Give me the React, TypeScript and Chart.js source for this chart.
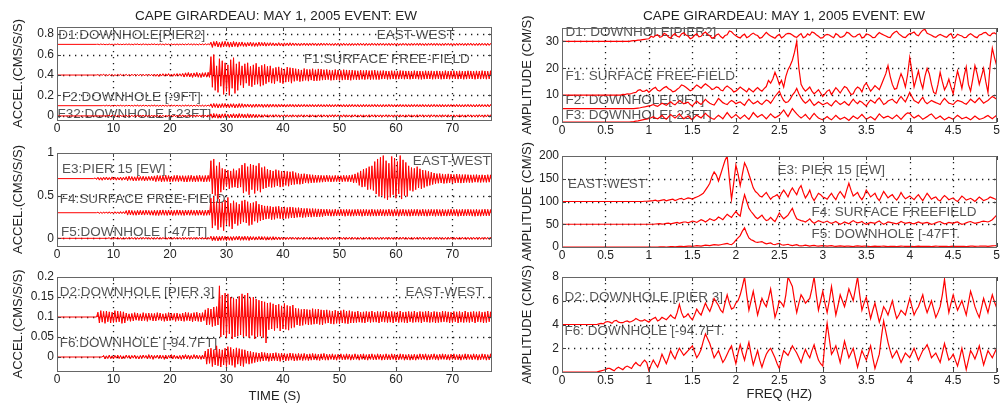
import React, { useEffect, useRef } from 'react';
import { Chart, registerables } from 'chart.js';
Chart.register(...registerables);

// ---------------- data ----------------
const TITLE = 'CAPE GIRARDEAU: MAY 1, 2005 EVENT: EW';
const TIME_TICKS = [0, 10, 20, 30, 40, 50, 60, 70];
const FREQ_TICKS = [0, 0.5, 1, 1.5, 2, 2.5, 3, 3.5, 4, 4.5, 5];
const P1_YTICKS = [0, 0.2, 0.4, 0.6, 0.8];
const P2_YTICKS = [0, 0.5, 1];
const P3_YTICKS = [0, 0.05, 0.1, 0.15, 0.2];
const P4_YTICKS = [0, 10, 20, 30];
const P5_YTICKS = [0, 50, 100, 150, 200];
const P6_YTICKS = [0, 2, 4, 6, 8];

const TIME_STEP = 0.25; // s between samples of the acceleration traces
const FREQ_STEP = 0.025; // Hz between samples of the spectra
const MILLI = 0.001; // deviations below are in thousandths of the axis unit

// time traces: baseline offset, onset time, deviations (thousandths), 5 s per row
const D1_BASE = 0.7, D1_START = 7;
const D1_DEV = [
  2,-3,4,-2,3,-4,1,-3,4,-3,2,-4,3,-2,5,-3,2,-4,3,-3,
  4,-3,5,-4,3,-5,4,-2,5,-4,3,-5,6,-3,4,-5,3,-4,5,-3,
  5,-4,3,-5,6,-4,4,-6,5,-3,4,-5,6,-4,3,-5,5,-6,4,-4,
  5,-6,4,-5,7,-4,5,-6,6,-5,4,-7,6,-5,5,-6,7,-4,6,-5,
  22,-30,28,-18,32,-26,20,-29,27,-24,30,-20,25,-28,22,-26,29,-21,24,-27,
  21,-18,24,-20,17,-22,19,-16,23,-19,18,-21,16,-20,22,-17,19,-15,20,-18,
  16,-14,17,-13,15,-16,12,-15,17,-14,13,-16,15,-12,14,-15,16,-13,14,-12,
  13,-12,11,-14,12,-10,13,-12,11,-13,12,-11,14,-10,12,-13,11,-12,13,-10,
  11,-10,12,-9,10,-11,9,-12,11,-10,12,-9,10,-11,12,-10,9,-11,10,-12,
  10,-11,9,-10,12,-10,11,-9,10,-12,11,-10,9,-11,12,-9,10,-11,11,-10,
  12,-9,10,-11,9,-10,11,-12,10,-9,11,-10,12,-11,9,-10,11,-9,10,-12,
  9,-11,12,-10,10,-9,11,-11,12,-10,9,-12,10,-11,11,-9,12,-10,10,-11,
  11,-10,9,-12,10,-11,12,-9,11,-10,10,-12,9,-11,11,-10,12,-9,10,-11,
  10,-12,11,-9,12,-10,9,-11,10,-11,12,-10,11,-9,10,-12,11,-10,9,-11,
  10,-10,11];
const F1_BASE = 0.4, F1_START = 7;
const F1_DEV = [
  4,-6,5,-3,7,-5,4,-6,6,-4,5,-7,3,-5,6,-4,7,-6,5,-5,
  7,-8,6,-9,8,-6,9,-7,6,-8,9,-7,8,-9,7,-6,9,-8,7,-9,
  10,-12,9,-14,11,-10,13,-11,12,-9,14,-12,10,-13,12,-11,14,-10,13,-12,
  16,-20,22,-15,25,-19,18,-24,21,-17,26,-22,19,-25,23,-18,24,-21,27,-23,
  180,-120,200,-150,90,-170,160,-110,140,-190,120,-160,100,-200,150,-130,170,-180,110,-150,
  130,-100,90,-125,110,-80,120,-105,85,-115,100,-95,115,-90,80,-110,95,-100,105,-85,
  85,-70,90,-80,65,-85,75,-60,80,-75,70,-85,60,-70,78,-65,72,-80,68,-62,
  62,-55,58,-65,50,-60,64,-52,56,-60,55,-50,62,-58,52,-57,60,-54,58,-50,
  52,-48,55,-45,50,-53,46,-50,54,-47,49,-52,45,-50,53,-46,50,-48,47,-52,
  48,-44,45,-47,42,-46,48,-42,44,-45,47,-41,43,-46,45,-43,48,-44,42,-45,
  42,-40,44,-38,40,-43,38,-41,43,-39,41,-42,39,-40,44,-38,42,-41,40,-39,
  40,-42,38,-39,43,-37,40,-41,39,-43,37,-40,42,-38,40,-39,41,-42,38,-40,
  41,-38,39,-42,37,-40,43,-39,38,-41,40,-37,42,-39,38,-40,41,-38,39,-42,
  38,-40,42,-37,40,-39,38,-42,41,-38,39,-40,43,-37,40,-41,38,-39,42,-40,
  39,-41,40];
const F2_BASE = 0.1, F2_START = 8;
const F2_DEV = [
  3,-4,5,-3,4,-5,3,-4,5,-4,4,-3,5,-4,3,-5,4,-3,5,-4,
  4,-5,5,-4,6,-5,4,-5,6,-4,5,-6,4,-5,5,-4,6,-5,4,-6,
  5,-6,6,-5,4,-6,5,-5,6,-4,5,-6,6,-5,4,-6,5,-5,6,-4,
  6,-5,5,-7,6,-5,7,-6,5,-6,6,-7,5,-5,7,-6,18,-20,22,-17,
  20,-22,18,-19,21,-17,22,-20,18,-21,19,-16,20,-22,17,-19,21,-18,20,-17,
  16,-15,17,-14,15,-17,14,-16,17,-15,15,-14,16,-17,14,-15,17,-16,15,-14,
  15,-14,13,-15,14,-13,15,-12,13,-14,12,-13,14,-12,13,-14,12,-13,14,-12,
  12,-11,13,-12,11,-13,12,-11,13,-12,11,-12,13,-11,12,-13,11,-12,12,-11,
  13,-12,11,-12,12,-11,13,-12,11,-13,12,-12,11,-13,12,-11,13,-12,11,-12,
  12,-13,11,-12,13,-11,12,-12,11,-13,12,-11,13,-12,12,-11,11,-13,12,-12,
  11,-12,13,-11,12,-12,11,-13,12,-11,13,-12,11,-12,12,-13,11,-12,13,-11,
  12,-11,12,-13,11,-12,13,-12,11,-11,12,-13,12,-11,13,-12,11,-12,12,-13,
  13,-12,11,-12,12,-11,12,-13,11,-12,13,-11,12,-12,11,-13,12,-11,13,-12,
  12,-12,11,-13,12,-11,13,-12,12,-11,11,-12,13,-12,12,-11,12,-13,11];
const F3_BASE = 0, F3_START = 9;
const F3_DEV = [
  6,-7,8,-6,7,-8,6,-7,8,-7,7,-6,8,-8,6,-7,7,-8,8,-6,
  7,-8,8,-7,9,-7,8,-8,7,-9,8,-7,9,-8,7,-8,8,-9,7,-8,
  8,-9,9,-8,7,-9,9,-8,8,-10,9,-8,10,-9,8,-9,9,-10,8,-9,
  9,-10,10,-8,9,-10,10,-9,9,-10,10,-9,20,-22,24,-18,21,-23,19,-22,
  20,-18,22,-19,17,-20,18,-16,22,-20,19,-21,23,-18,20,-19,17,-21,22,-18,
  19,-17,18,-16,15,-17,14,-13,12,-14,13,-11,12,-13,11,-12,12,-11,13,-12,
  11,-12,10,-11,12,-10,11,-12,10,-11,12,-11,10,-12,11,-10,12,-11,11,-10,
  10,-11,12,-10,11,-11,10,-12,11,-10,12,-11,11,-10,10,-12,11,-11,12,-10,
  12,-10,11,-11,10,-12,12,-10,11,-11,10,-12,11,-10,12,-11,10,-11,11,-12,
  11,-11,10,-12,12,-10,11,-11,12,-10,10,-11,11,-12,10,-10,12,-11,11,-10,
  10,-12,11,-10,11,-11,12,-10,10,-12,11,-11,12,-10,11,-11,10,-12,12,-10,
  11,-10,12,-11,10,-11,11,-12,12,-10,11,-10,10,-12,11,-11,12,-10,11,-11,
  12,-11,10,-11,11,-12,10,-10,12,-11,11,-12,10,-11,12,-10,11,-11,10,-12,
  11,-11,12,-10,10,-12,11,-11,12,-10,11,-10,12,-11,10];

const E3_BASE = 0.7, E3_START = 6.5;
const E3_DEV = [8,-10,
  15,-18,12,-20,17,-14,19,-16,13,-18,20,-15,17,-19,14,-17,18,-20,16,-15,
  22,-25,28,-20,24,-27,21,-26,29,-23,25,-22,27,-28,23,-24,26,-21,28,-25,
  32,-36,38,-30,35,-39,31,-34,40,-33,36,-38,30,-35,37,-32,39,-36,34,-31,
  35,-38,33,-40,37,-34,39,-36,32,-38,36,-35,40,-33,34,-39,37,-36,38,-34,
  210,-180,230,-200,150,-240,190,-160,120,-130,110,-95,100,-120,90,-105,115,-100,95,-110,
  120,-100,160,-170,180,-150,140,-190,170,-130,160,-175,150,-140,180,-160,130,-120,140,-110,
  110,-95,100,-105,90,-100,105,-85,95,-100,85,-95,90,-80,85,-90,80,-75,85,-70,
  70,-65,60,-68,55,-62,58,-50,52,-55,48,-50,45,-48,42,-46,40,-44,38,-42,
  36,-38,40,-35,37,-39,34,-36,38,-35,36,-40,35,-37,39,-34,37,-36,40,-38,
  45,-50,55,-48,70,-80,90,-100,110,-95,120,-130,140,-125,150,-140,200,-180,230,-210,
  250,-200,270,-230,210,-250,180,-220,260,-190,240,-230,200,-180,270,-240,220,-200,190,-210,
  150,-140,130,-150,120,-130,140,-110,115,-120,100,-105,95,-90,85,-80,75,-70,65,-60,
  58,-55,60,-52,55,-58,50,-54,56,-50,52,-55,48,-52,54,-49,50,-53,47,-50,
  48,-45,46,-48,44,-47,45,-42,47,-44,43,-46,45,-43,42,-45,46,-42,44,-45,
  43,-44,45];
const F4_BASE = 0.3, F4_START = 7;
const F4_DEV = [
  6,-8,7,-9,9,-7,10,-8,11,-9,8,-10,12,-9,10,-11,13,-10,12,-11,
  25,-28,30,-26,27,-29,24,-30,28,-25,29,-27,26,-28,30,-24,27,-29,25,-30,
  30,-32,28,-33,31,-29,33,-30,29,-32,32,-28,30,-33,28,-31,33,-29,31,-30,
  29,-33,32,-28,30,-31,33,-29,28,-32,31,-30,32,-28,29,-33,30,-31,32,-29,
  170,-180,190,-150,130,-200,160,-170,120,-210,150,-140,180,-160,110,-190,140,-130,120,-150,
  100,-130,140,-110,150,-120,130,-150,110,-140,120,-100,135,-115,100,-95,90,-85,80,-75,
  80,-70,75,-82,68,-78,72,-65,76,-70,65,-72,70,-68,62,-66,68,-60,64,-62,
  58,-55,60,-52,55,-58,50,-54,52,-50,48,-52,50,-46,47,-49,45,-47,44,-46,
  40,-38,42,-36,39,-41,37,-40,42,-38,36,-39,41,-37,38,-42,40,-36,39,-41,
  37,-40,39,-38,41,-36,38,-42,40,-37,39,-38,36,-41,42,-39,37,-40,38,-36,
  41,-37,38,-40,36,-39,42,-38,37,-41,40,-36,39,-42,38,-37,41,-39,36,-40,
  38,-41,40,-37,39,-36,41,-40,36,-38,42,-39,37,-41,39,-36,40,-38,38,-42,
  40,-36,37,-41,42,-38,36,-40,39,-37,41,-39,38,-36,40,-42,37,-38,41,-39,
  39,-38,41,-36,38,-40,37,-42,40,-39,36,-41,39,-37,42,-38,40,-36,37,-40,
  38,-39,40];
const F5_BASE = 0, F5_START = 9;
const F5_DEV = [
  8,-10,9,-11,10,-9,11,-10,9,-12,10,-11,9,-10,12,-9,11,-10,10,-12,
  9,-11,10,-9,12,-10,11,-9,10,-12,11,-10,9,-11,12,-10,10,-11,11,-9,
  10,-12,11,-10,9,-11,12,-10,11,-9,10,-12,11,-10,12,-11,9,-10,11,-12,
  11,-10,12,-11,10,-9,12,-11,10,-12,11,-10,25,-28,22,-26,24,-30,22,-25,
  26,-23,24,-27,22,-24,20,-25,22,-21,23,-20,26,-24,21,-23,25,-22,24,-26,
  22,-19,20,-21,18,-20,22,-19,21,-18,20,-22,19,-20,18,-21,20,-19,17,-18,
  16,-15,14,-16,13,-14,12,-13,14,-11,13,-12,12,-14,13,-12,11,-13,14,-12,
  12,-11,13,-12,14,-13,12,-11,13,-14,12,-13,11,-12,13,-14,12,-11,13,-12,
  14,-12,12,-13,11,-12,13,-14,12,-11,13,-12,14,-12,12,-13,11,-12,13,-14,
  12,-11,13,-12,14,-12,12,-13,11,-12,13,-14,12,-11,13,-12,12,-13,14,-12,
  11,-12,13,-14,12,-12,13,-11,14,-12,12,-13,11,-12,13,-14,12,-11,13,-12,
  14,-12,12,-13,11,-12,13,-14,12,-11,13,-12,12,-13,14,-12,11,-13,12,-12,
  13,-11,12,-14,12,-13,11,-12,13,-12,14,-11,12,-13,12,-14,11,-12,13,-12,
  12,-13,14,-12,11,-12,13,-11,12,-14,13,-12,11,-13,12];

const D2_BASE = 0.1, D2_START = 7;
const D2_DEV = [
  12,-15,16,-13,14,-16,15,-12,13,-15,12,-14,16,-13,15,-12,14,-16,13,-15,
  10,-9,8,-11,9,-10,11,-8,10,-9,8,-10,11,-9,9,-11,10,-8,9,-10,
  9,-10,11,-8,10,-9,8,-11,9,-10,11,-9,10,-8,9,-11,10,-9,8,-10,
  10,-11,12,-9,11,-10,9,-12,11,-10,12,-11,10,-12,11,-9,18,-20,22,-19,
  20,-24,25,-22,26,-20,78,-50,55,-45,60,-52,58,-42,50,-55,48,-50,45,-48,
  52,-45,58,-50,55,-48,60,-52,48,-46,50,-55,45,-50,42,-48,40,-52,38,-65,
  35,-32,36,-30,33,-34,30,-28,32,-35,28,-30,34,-31,29,-33,27,-28,30,-26,
  22,-20,21,-22,19,-21,20,-18,19,-20,18,-19,21,-18,19,-17,20,-19,18,-20,
  17,-16,18,-15,16,-17,15,-18,17,-16,15,-17,16,-15,18,-16,15,-17,16,-15,
  14,-15,13,-14,15,-13,12,-14,13,-15,14,-12,13,-14,15,-13,12,-13,14,-15,
  13,-12,14,-13,15,-14,12,-13,14,-15,13,-12,13,-14,15,-13,12,-14,13,-15,
  14,-12,13,-14,15,-13,12,-13,14,-15,13,-12,14,-13,15,-14,12,-13,14,-15,
  13,-14,12,-13,15,-12,14,-13,13,-15,12,-14,14,-12,13,-15,14,-13,12,-14,
  15,-13,12,-14,13,-12,14,-15,13,-12,14,-13,12,-15,13,-14,15,-12,13,-14,
  13,-12,14];
const F6_BASE = 0, F6_START = 8;
const F6_DEV = [
  4,-5,3,-4,5,-4,3,-5,4,-3,5,-4,4,-5,3,-4,5,-3,4,-5,
  4,-3,5,-4,3,-5,4,-4,5,-3,4,-5,6,-4,5,-6,4,-3,5,-4,
  5,-4,4,-6,5,-5,4,-3,6,-5,5,-4,3,-5,4,-6,5,-4,6,-5,
  5,-6,4,-5,6,-4,5,-5,4,-6,5,-5,15,-18,20,-16,22,-24,18,-20,
  28,-22,20,-25,18,-20,22,-24,26,-19,24,-21,20,-26,23,-18,21,-22,19,-24,
  18,-16,15,-18,14,-16,12,-14,11,-12,10,-11,12,-10,11,-9,10,-11,9,-10,
  10,-9,11,-10,9,-11,10,-8,9,-10,8,-9,10,-8,9,-10,8,-9,9,-8,
  8,-9,9,-8,7,-9,8,-8,9,-7,8,-8,7,-9,8,-7,9,-8,7,-8,
  7,-6,8,-7,6,-8,7,-6,8,-7,6,-7,8,-6,7,-8,6,-7,8,-6,
  6,-8,7,-6,8,-7,6,-8,7,-6,8,-7,6,-7,8,-6,7,-8,6,-7,
  8,-7,6,-7,8,-6,7,-8,6,-7,8,-6,7,-8,6,-7,7,-8,6,-7,
  7,-8,6,-6,8,-7,7,-6,8,-8,6,-7,7,-6,8,-7,6,-8,7,-6,
  8,-6,7,-7,6,-8,7,-6,8,-7,6,-7,7,-8,6,-6,8,-7,7,-6,
  6,-7,8,-6,7,-8,6,-7,8,-6,7,-8,6,-7,8,-6,7,-7,6,-8,
  7,-6,8];

// spectra, sampled every FREQ_STEP from 0 to 5 Hz (rows: 0-1, then 1 Hz per row)
const S_D1 = [30,30,30,30,30,30,30,30,30,30,30,30,30,30,30,30,30,30,30,30,30,30,30,30,30,30,30,30,30,30,30,30,
  30.2,30.3,30.3,30.5,30.5,30.7,30.8,30.9,31,
  31.9,31.5,32.2,32.5,31.5,31.8,33,32.6,31.6,31.2,32.3,32.9,31.9,31.6,32.8,33.2,32.4,32,31,31.4,
  32.3,32.8,31.7,31.9,33,33.5,32.6,32.2,31.2,31.5,32.4,32.8,31.8,31.2,32.2,32.5,33.9,33.6,32.7,32.1,
  31.6,31.3,32.2,32.7,31.4,31.8,32.6,33.1,32.5,32.2,31.2,31.5,32.4,33.4,32.6,32,31.6,31.2,32.1,32.6,
  31.3,31.8,32.7,33,32.9,32.4,31.8,31.5,32.3,32.9,31.4,31.7,32.8,32.3,33.5,33.2,32.5,31.9,31.2,31.4,
  32.3,32.6,32.4,31.8,31.4,32.9,32.4,31.5,31.7,32.2,33.4,33.1,32.3,31.7,31.8,32.5,32.8,31.3,31.6,32.8,
  32.6,32.1,31.4,31.5,32.5,33.3,32.8,32.4,32,31.6,31.4,32.7,33.4,33.8,32.8,32.2,31.6,31.4,32.3,32.9,
  33.1,33.5,32.5,32.1,33.3,34.2,34.5,33,32.7,32.3,31.8,31.5,32.2,32.6,32.2,31.8,31.5,32.4,32.9,31.2,
  31.6,32.7,32.3,32,31.4,31.5,32.4,32.9,32.3,31.7,31.4,32.4,32.6,33.2,33.4,32.5,32.1,33,33.2,32.6];
const S_F1 = [10,10,10,10,10,10,10,10,10,10,10,10,10,10,10,10,10,10,10,10,10,10,10,10,10,10,10,10,
  10.3,10.2,10.5,10.4,10.6,10.9,11,11.8,12,11.4,11.5,11.9,11,
  11.8,12.5,12.9,11.8,11.5,12.2,12.8,13.2,12.4,12,11.2,11.5,12.2,12.8,13.8,13.5,12.9,12.3,11.6,12,
  13,13.8,13.2,12.6,13.5,14.2,13.6,13,12.1,12.4,13.1,12.8,11.9,11.6,12.8,13.4,12.8,12.2,11.2,11.5,
  12.2,13,12.4,11.8,11.2,12.5,11.8,11.2,12.1,12.8,12,11.5,12.4,13.2,15.5,14.5,16,18.5,16.5,14,
  15.5,13,17,19.5,21,23,26,30,20,14,12.5,11.5,12.2,13,11.5,10.5,11.2,12,10.8,9.5,
  10.5,11.5,12,10.2,11.5,12.8,11.9,10.8,12.1,13.2,12.8,11.5,10.2,10.5,12.2,13,12.5,11.2,13.5,14.5,
  13,11.5,12.4,13.5,12.8,12,14,16,18,21,17,14,12.2,12.5,15.5,18,16,13,17.5,24,
  19,13,16,19,15,12.5,17,20,18,14,11,10.5,14,18.5,15,12,13.5,16,13,10.5,
  15,19,16,12.5,17,20.5,14,11.5,16,21,18,14,17,20,15,11,21,27.5,24,21];
const S_F2 = [5,5,5,5,5,5,5,5,5,5,5,5,5,5,5,5,5,5,5,5,5,5,5,5,5,5,5,5,5,5,5,5,5,5,
  5.1,5.2,5.3,5.5,5.6,5.8,6,
  6.2,6.5,6.1,5.8,6.4,7,6.6,6.2,6.9,7.5,6.8,6.4,7.2,8,7.4,6.8,7.1,7.4,6.5,6,
  6.9,7.8,7.1,6.5,7.5,8.4,7.6,7,6.6,6.3,7.5,8.8,8,7.2,6.8,6.5,7.4,8,7.5,6.8,
  7.2,7.5,6.8,6.2,7.5,8.5,7.6,6.8,7.2,7.8,7,6.5,7.4,8.2,7.8,7,8.2,9.5,10.5,11.5,
  9.5,8,7.2,7.5,8.5,10,11,12.5,10.5,9,7.8,7,7.6,8.5,7.2,6.2,6.8,7.5,7,6.4,
  6.8,7.2,6.5,6,7.1,8,7.2,6.5,7,7.6,6.8,6.2,7.4,8.5,7.5,6.8,7.8,7.4,6.6,6,
  7.2,8.2,7.6,7,8.2,9,7.8,6.5,7,7.8,8.2,8.5,7.6,7,8.4,9.5,8.4,7.5,9.2,11,
  9.5,8,7.5,7,8.2,9.2,7.6,6.8,7.4,8,7.6,7.2,6.9,6.5,7.8,8.8,7.9,7,6.8,6.5,
  7.4,8,7.8,7.5,7,6.6,7.5,8.5,7.8,7.2,8.1,9,8,7,7.5,8,8.8,9.5,9,8.5];
const S_F3 = [0,0,0,0,0,0,0,0,0,0,0,0,0,0,0,0,0,0,0,0,0,0,0,0,0,0,0,0,0,0,0,0,
  0.1,0.15,0.3,0.4,0.6,0.8,1,1.1,1.3,
  1.6,2,1.5,1.2,1.8,2.5,1.6,1,1.9,2.8,2.1,1.5,2.2,3,2,1.2,1.7,2.2,1.4,0.8,
  1.8,2.6,2,1.5,2.4,3.2,2.4,1.8,1.3,1,1.8,2.5,1.9,1.2,2.4,3.5,2.5,1.5,2.1,2.8,
  2,1.2,1.9,2.6,1.7,1,2.2,3.5,2.6,1.8,2.3,2.8,2,1.2,2.1,3,2.2,1.6,2,2.5,
  3.5,4.5,3.2,2,3.5,5,4,3,2.2,1.5,2.1,2.8,1.8,1,2.2,3.2,2.3,1.5,1.1,0.8,
  1.4,2,1.3,0.8,1.6,2.5,1.7,1,1.4,1.8,1.2,0.6,1.4,2.2,1.7,1.2,2,2.8,1.9,1,
  1.5,2,1.4,0.8,1.9,3,2.2,1.5,1.9,2.2,1.7,1.2,1.9,2.6,1.8,1,1.9,2.8,3.4,3.2,
  2.2,1.5,2,2.5,1.8,1,1.5,2,2.6,3,2.1,1.2,1.7,2.2,1.5,0.8,1.3,1.8,1.4,1,
  1.8,2.5,1.9,1.2,1.5,1.8,1.3,0.8,1.5,2.2,1.6,1,1.2,1.5,2,2.4,1.8,1.2,1.9,2.5];

const S_E3 = [100,100,100,100,100,100,100,100,100,100,100,100,100,100,100,100,100,100,100,100,
  100,100,100,100,100,100,100,100,100,100,100,100,100,100,100,100,100,100,100.5,100.5,101,
  101.5,102,103,101,102,103,104,101.5,103,104,105,102,104,106,107,104,106,108,107,105,
  108,110,112,115,118,125,132,140,155,165,158,145,160,175,190,200,150,105,140,180,
  160,135,160,185,175,160,145,130,122,118,112,110,115,120,112,105,110,112,115,108,
  118,125,118,110,122,130,122,115,128,135,120,108,115,125,110,102,110,118,115,110,
  108,105,112,118,110,104,115,122,115,108,125,140,125,112,116,120,110,104,112,125,
  118,110,114,118,108,102,112,122,115,108,112,115,108,103,110,120,112,106,109,112,
  108,104,110,115,108,102,110,118,112,105,108,110,104,101,108,113,109,104,106,108,
  103,100,106,112,108,103,105,107,104,100,105,110,106,102,104,106,110,108,106,104];
const S_F4 = [50,50,50,50,50,50,50,50,50,50,50,50,50,50,50,50,50,50,50,50,
  50,50,50,50,50,50,50,50,50,50,50,50,50,50,50,50,50,50,50,50,50,
  50,50,50.5,51,51.5,50.5,51,52,52.5,51,52,53,54,52,53.5,55,55,53,55,57,
  56,54,57,60,58,55,58,62,60,58,61,66,63,60,66,72,68,65,72,78,
  72,68,95,115,100,85,78,72,66,62,66,70,63,58,60,65,60,56,65,75,
  68,62,66,70,78,85,72,62,60,58,57,55,58,62,56,52,55,58,56,54,
  55,57,54,52,54,56,53,50,52,55,53,51,55,58,55,53,54,56,52,50,
  52,54,53,52,55,57,53,50,52,55,54,53,52,51,53,56,54,52,53,54,
  52,51,53,55,53,52,53,54,52,50,51,53,55,56,53,51,52,54,53,52,
  54,55,52,50,51,53,55,56,54,52,53,54,56,57,56,55,57,60,65,70];
const S_F5 = [0,0,0,0,0,0,0,0,0,0,0,0,0,0,0,0,0,0,0,0,
  0,0,0,0,0,0,0,0,0,0,0,0,0,0,0,0,0,0,0,0,0,
  0,0,0,0,0.3,0.5,0.3,0,0.5,1,0.8,0.5,1,1.5,1.2,1,1.5,2,1.8,1.5,
  2.2,3,2.5,2,3,4,3.5,3,4,5,4.5,4,5,6,7,8,6,5,9,15,
  20,25,35,42,30,20,16,14,11,10,11,12,9,7,8,9,6,5,7,8,
  5,4,5,6,4,3,4,5,3,2.5,3,4,3,2,3,3.5,2.5,2,2.5,3,
  2.5,2,2.5,3,2,1.5,2,2.5,2,1.5,1.8,2,1.5,1,1.8,2.5,2,1.5,1.8,2,
  1.5,1,1.4,1.8,1.5,1.2,1.6,2,1.5,1,1.2,1.5,1.2,1,1.5,2,1.6,1.2,1.3,1.5,
  1.2,1,1.4,1.8,1.5,1.2,1.3,1.5,1.2,1,1.5,2,1.6,1.2,1.3,1.5,1.2,1,1.4,1.8,
  1.5,1.2,1.3,1.5,1.2,1,1.5,2,1.8,1.5,1.6,1.8,2.2,2,1.8,1.5,2,2.5,2.8,3];

const S_D2 = [4,4,4,4,4,4,4,4,4,4,4,4,4,4,4,4,
  4,4.05,4.1,4.05,4.2,4.25,4.2,4.1,4.3,4.35,4.2,4.15,4.15,4.25,4.3,4.2,4.25,4.35,4.5,4.4,4.3,4.3,4.4,4.3,4.2,
  4.4,4.5,4.6,4.3,4.4,4.6,4.5,4.4,4.6,4.8,4.6,4.5,5,5.7,5,4.6,4.7,4.9,4.6,4.4,
  4.8,5.3,5,4.8,5.3,5.8,5.4,5.1,5.6,6.2,5.9,5.6,5.2,5,5.8,6.5,5.8,5.3,5.4,5.8,
  6,6.5,7.2,8,6.5,5.2,6,6.8,5.8,4.8,5.5,6.2,5.8,5.5,6.2,7,5.8,4.6,5.2,6,
  5.8,5.5,6.5,8,7.6,7.2,6,5,5.8,6.5,6.2,5.8,6,6.2,7,8,6.5,5.2,6,6.8,
  5.8,5,6,7.2,6,4.8,5.6,6.5,6,5.5,6.2,7,6.5,6,7,8,6.5,5.2,5.8,6.3,
  5.4,4.5,5.2,5.8,5,4.2,4.8,5.5,5.2,4.8,5.4,6,5.2,4.5,4.8,5.2,5,4.8,5.5,6.2,
  5.5,4.8,5.2,5.5,6,6.5,5.6,5,5.5,6,5.3,4.6,5,5.5,6.5,7.8,6.2,5,5.8,6.5,
  5.8,5.2,5.6,6,5.4,4.8,5.8,6.8,6.2,5.5,5,4.6,5.4,6.2,5.6,5,5.8,6.5,5.9,5.4];
const S_F6 = [0,0,0,0,0,0,0,0,0,0,0,0,0,0,0,0,
  0,0.05,0.1,0.15,0.2,0.3,0.3,0.2,0.1,0.3,0.4,0.3,0.2,0.4,0.5,0.4,0.3,0.6,0.8,0.6,0.5,0.8,1,0.8,0.1,
  0.6,1,0.7,0.4,0.9,1.5,1.1,0.7,1.2,1.8,1.4,1.1,1.6,2,1.7,1.4,1.6,1.8,2,2.2,
  1.7,1.2,1.5,1.9,2.6,3.2,2.8,2.4,1.8,1.2,1.5,1.8,1.3,0.8,1.1,1.5,1.9,2.2,1.4,0.7,
  1.6,2.3,1.6,1,1.8,2.5,1.5,0.6,1.2,1.8,1,0.4,1,1.5,1.8,2,1.6,1.2,0.7,0.3,
  1.1,1.8,1.6,1.4,1.8,2.2,1.9,1.6,1.2,0.8,1.4,1.9,1.5,1.2,1.8,2.3,1.6,1,0.7,0.5,
  2.5,4.1,2.8,1.5,1.8,2.2,1.5,0.8,1.7,2.6,1.9,1.2,1.6,2,1.2,0.4,1.1,1.8,1.4,1,
  1.6,2.2,1.2,0.3,0.9,1.5,3,4.3,3.4,2.5,1.8,1.2,1.5,1.8,1.3,0.8,1.2,1.6,1.4,1.2,
  1.6,2,1.5,1,1.4,1.8,2,2.3,1.8,1.2,1.4,1.6,1.2,0.8,1.6,2.4,1.7,1,1.2,1.5,
  1,0.5,1.2,2,1.1,0.2,1,1.8,1.5,1.1,1.6,2.2,1.4,0.6,1.2,1.8,1.5,1.2,1.6,2];

// ---------------- annotation layout (data coordinates) ----------------
type Note = { text: string; x: number; y: number; align?: CanvasTextAlign };
const P1_NOTES: Note[] = [
  { text: 'D1:DOWNHOLE[PIER2]', x: 0.2, y: 0.79 },
  { text: 'EAST-WEST', x: 56.6, y: 0.79 },
  { text: 'F1:SURFACE FREE-FIELD', x: 43.7, y: 0.555 },
  { text: 'F2:DOWNHOLE [-9FT]', x: 0.9, y: 0.185 },
  { text: 'F32:DOWNHOLE [-23FT]', x: 0.1, y: 0.012 },
];
const P2_NOTES: Note[] = [
  { text: 'E3:PIER 15 [EW]', x: 0.9, y: 0.81 },
  { text: 'EAST-WEST', x: 76.8, y: 0.9, align: 'right' },
  { text: 'F4:SURFACE FREE-FIELD', x: 0.5, y: 0.46 },
  { text: 'F5:DOWNHOLE [-47FT]', x: 0.7, y: 0.07 },
];
const P3_NOTES: Note[] = [
  { text: 'D2:DOWNHOLE [PIER 3]', x: 0.5, y: 0.163 },
  { text: 'EAST-WEST', x: 61.7, y: 0.163 },
  { text: 'F6:DOWNHOLE [-94.7FT]', x: 0.5, y: 0.035 },
];
const P4_NOTES: Note[] = [
  { text: 'D1: DOWNHOLE[PIER2]', x: 0.04, y: 33.3 },
  { text: 'F1: SURFACE FREE-FIELD', x: 0.04, y: 17.2 },
  { text: 'F2: DOWNHOLE[-9FT]', x: 0.04, y: 8.2 },
  { text: 'F3: DOWNHOLE[-23FT]', x: 0.04, y: 2.6 },
];
const P5_NOTES: Note[] = [
  { text: 'EAST-WEST', x: 0.07, y: 138 },
  { text: 'E3: PIER 15 [EW]', x: 2.48, y: 169 },
  { text: 'F4: SURFACE FREEFIELD', x: 2.87, y: 76 },
  { text: 'F5: DOWNHOLE [-47FT.', x: 2.87, y: 29 },
];
const P6_NOTES: Note[] = [
  { text: 'D2: DOWNHOLE [PIER 3]', x: 0.03, y: 6.3 },
  { text: 'F6: DOWNHOLE [-94.7FT.', x: 0.03, y: 3.4 },
];

// ---------------- styling ----------------
const W = 1001, H = 408;
const FONT = '"Liberation Sans", Arial, Helvetica, sans-serif';
const RED = '#ff0000';
const INK = '#222222';
const NOTE_INK = '#555555';

type Pt = { x: number; y: number };
type Trace = { pts: Pt[]; base?: number };
function timeTrace(base: number, start: number, dev: number[]): Trace {
  const pts: Pt[] = [{ x: 0, y: base }, { x: start, y: base }];
  dev.forEach((d, i) => pts.push({ x: start + (i + 1) * TIME_STEP, y: base + d * MILLI }));
  return { pts, base };
}
function spectrum(vals: number[]): Trace {
  return { pts: vals.map((v, i) => ({ x: i * FREQ_STEP, y: v })) };
}

type Panel = {
  key: string; scaleLeft: number; left: number; right: number; top: number; bottom: number;
  xAxisH: number; xMin: number; xMax: number; yMin: number; yMax: number;
  xTicks: number[]; yTicks: number[]; yTitle: string; yTitlePad: number;
  xTitle?: string; xTitlePad?: number; title?: { x: number; y: number };
  series: Trace[]; notes: Note[]; lineWidth: number;
};

const PANELS: Panel[] = [
  { key: 'p1', scaleLeft: 0, left: 57, right: 492, top: 27, bottom: 120, xAxisH: 16,
    xMin: 0, xMax: 77, yMin: -0.04, yMax: 0.87, xTicks: TIME_TICKS, yTicks: P1_YTICKS,
    yTitle: 'ACCEL.(CMS/S/S)', yTitlePad: 10.5, title: { x: 276, y: 16 },
    series: [timeTrace(D1_BASE, D1_START, D1_DEV), timeTrace(F1_BASE, F1_START, F1_DEV),
      timeTrace(F2_BASE, F2_START, F2_DEV), timeTrace(F3_BASE, F3_START, F3_DEV)],
    notes: P1_NOTES, lineWidth: 1 },
  { key: 'p2', scaleLeft: 0, left: 57, right: 492, top: 153, bottom: 246, xAxisH: 16,
    xMin: 0, xMax: 77, yMin: -0.09, yMax: 1, xTicks: TIME_TICKS, yTicks: P2_YTICKS,
    yTitle: 'ACCEL.(CMS/S/S)', yTitlePad: 10.5,
    series: [timeTrace(E3_BASE, E3_START, E3_DEV), timeTrace(F4_BASE, F4_START, F4_DEV),
      timeTrace(F5_BASE, F5_START, F5_DEV)],
    notes: P2_NOTES, lineWidth: 1 },
  { key: 'p3', scaleLeft: 0, left: 57, right: 492, top: 277, bottom: 371, xAxisH: 37,
    xMin: 0, xMax: 77, yMin: -0.035, yMax: 0.2, xTicks: TIME_TICKS, yTicks: P3_YTICKS,
    yTitle: 'ACCEL.(CMS/S/S)', yTitlePad: 10.5, xTitle: 'TIME (S)', xTitlePad: 3.5,
    series: [timeTrace(D2_BASE, D2_START, D2_DEV), timeTrace(F6_BASE, F6_START, F6_DEV)],
    notes: P3_NOTES, lineWidth: 1 },
  { key: 'p4', scaleLeft: 500, left: 562, right: 997, top: 28, bottom: 122, xAxisH: 16,
    xMin: 0, xMax: 5, yMin: 0, yMax: 35, xTicks: FREQ_TICKS, yTicks: P4_YTICKS,
    yTitle: 'AMPLITUDE (CM/S)', yTitlePad: 19.5, title: { x: 784, y: 16 },
    series: [spectrum(S_D1), spectrum(S_F1), spectrum(S_F2), spectrum(S_F3)],
    notes: P4_NOTES, lineWidth: 1.2 },
  { key: 'p5', scaleLeft: 500, left: 562, right: 997, top: 156, bottom: 247, xAxisH: 16,
    xMin: 0, xMax: 5, yMin: 0, yMax: 200, xTicks: FREQ_TICKS, yTicks: P5_YTICKS,
    yTitle: 'AMPLITUDE (CM/S)', yTitlePad: 19.5,
    series: [spectrum(S_E3), spectrum(S_F4), spectrum(S_F5)],
    notes: P5_NOTES, lineWidth: 1.2 },
  { key: 'p6', scaleLeft: 500, left: 562, right: 997, top: 277, bottom: 372, xAxisH: 36,
    xMin: 0, xMax: 5, yMin: 0, yMax: 8, xTicks: FREQ_TICKS, yTicks: P6_YTICKS,
    yTitle: 'AMPLITUDE (CM/S)', yTitlePad: 19.5, xTitle: 'FREQ (HZ)', xTitlePad: 5.5,
    series: [spectrum(S_D2), spectrum(S_F6)],
    notes: P6_NOTES, lineWidth: 1.2 },
];

function decor(p: Panel) {
  return {
    id: 'decor_' + p.key,
    beforeDatasetsDraw(chart: any) {
      const ctx: CanvasRenderingContext2D = chart.ctx;
      const { left, right, top, bottom } = chart.chartArea;
      const xs = chart.scales.x, ys = chart.scales.y;
      ctx.save();
      ctx.fillStyle = NOTE_INK;
      ctx.font = `13.5px ${FONT}`;
      ctx.textBaseline = 'middle';
      for (const n of p.notes) {
        ctx.textAlign = n.align || 'left';
        ctx.fillText(n.text, xs.getPixelForValue(n.x), ys.getPixelForValue(n.y));
      }
      ctx.strokeStyle = '#1a1a1a';
      ctx.lineWidth = 1.3;
      ctx.setLineDash([1.3, 4.7]);
      for (const v of p.xTicks) {
        const px = Math.round(xs.getPixelForValue(v)) + 0.5;
        if (px <= left + 1 || px >= right - 1) continue;
        ctx.beginPath(); ctx.moveTo(px, top); ctx.lineTo(px, bottom); ctx.stroke();
      }
      for (const v of p.yTicks) {
        const py = Math.round(ys.getPixelForValue(v)) + 0.5;
        if (py <= top + 1 || py >= bottom - 1) continue;
        ctx.beginPath(); ctx.moveTo(left, py); ctx.lineTo(right, py); ctx.stroke();
      }
      ctx.restore();
    },
    afterDatasetsDraw(chart: any) {
      const ctx: CanvasRenderingContext2D = chart.ctx;
      const { left, right, top, bottom } = chart.chartArea;
      const xs = chart.scales.x, ys = chart.scales.y;
      ctx.save();
      ctx.strokeStyle = '#444';
      ctx.lineWidth = 1;
      const TL = 4;
      for (const v of p.xTicks) {
        const px = Math.round(xs.getPixelForValue(v)) + 0.5;
        ctx.beginPath();
        ctx.moveTo(px, bottom); ctx.lineTo(px, bottom - TL);
        ctx.moveTo(px, top); ctx.lineTo(px, top + TL);
        ctx.stroke();
      }
      for (const v of p.yTicks) {
        const py = Math.round(ys.getPixelForValue(v)) + 0.5;
        ctx.beginPath();
        ctx.moveTo(left, py); ctx.lineTo(left + TL, py);
        ctx.moveTo(right, py); ctx.lineTo(right - TL, py);
        ctx.stroke();
      }
      ctx.strokeStyle = '#666';
      ctx.strokeRect(Math.round(left) + 0.5, Math.round(top) + 0.5, Math.round(right - left) - 1, Math.round(bottom - top));
      if (p.title) {
        ctx.fillStyle = INK;
        ctx.font = `13.5px ${FONT}`;
        ctx.textAlign = 'center';
        ctx.textBaseline = 'middle';
        ctx.fillText(TITLE, p.title.x, p.title.y);
      }
      ctx.restore();
    },
  };
}

function makeChart(canvas: HTMLCanvasElement, p: Panel) {
  const tickFont = { family: FONT, size: 12 };
  const titleFont = { family: FONT, size: 13 };
  return new Chart(canvas, {
    type: 'line',
    data: {
      datasets: p.series.map((s) => ({
        data: s.pts, borderColor: RED, borderWidth: p.lineWidth, pointRadius: 0,
        tension: 0,
        fill: s.base !== undefined ? { value: s.base } : false,
        backgroundColor: 'rgba(255,0,0,0.9)',
      })),
    },
    options: {
      animation: false,
      responsive: false,
      devicePixelRatio: 1,
      events: [],
      layout: { padding: { left: p.scaleLeft, right: W - p.right, top: p.top, bottom: H - p.bottom - p.xAxisH } },
      plugins: { legend: { display: false }, tooltip: { enabled: false }, title: { display: false },
        filler: { propagate: false } },
      scales: {
        x: {
          type: 'linear', min: p.xMin, max: p.xMax,
          afterBuildTicks: (s: any) => { s.ticks = p.xTicks.map((v) => ({ value: v })); },
          afterFit: (s: any) => { s.height = p.xAxisH; },
          grid: { display: false, drawTicks: false }, border: { display: false },
          ticks: { color: INK, font: tickFont, padding: 1, maxRotation: 0, autoSkip: false,
            callback: (v: any) => String(v) },
          title: p.xTitle
            ? { display: true, text: p.xTitle, color: INK, font: titleFont, padding: { top: 0, bottom: p.xTitlePad } }
            : { display: false },
        },
        y: {
          type: 'linear', min: p.yMin, max: p.yMax,
          afterBuildTicks: (s: any) => { s.ticks = p.yTicks.map((v) => ({ value: v })); },
          afterFit: (s: any) => { s.width = p.left - p.scaleLeft; },
          grid: { display: false, drawTicks: false }, border: { display: false },
          ticks: { color: INK, font: tickFont, padding: 3, autoSkip: false,
            callback: (v: any) => String(v) },
          title: { display: true, text: p.yTitle, color: INK, font: titleFont, padding: { top: p.yTitlePad, bottom: 0 } },
        },
      },
    } as any,
    plugins: [decor(p)],
  });
}

export default function App() {
  const refs = useRef<(HTMLCanvasElement | null)[]>([]);
  useEffect(() => {
    const charts = PANELS.map((p, i) => makeChart(refs.current[i] as HTMLCanvasElement, p));
    return () => charts.forEach((c) => c.destroy());
  }, []);
  return (
    <div style={{ position: 'absolute', left: 0, top: 0, width: W, height: H, background: '#fff' }}>
      {PANELS.map((p, i) => (
        <canvas key={p.key} ref={(el) => { refs.current[i] = el; }} width={W} height={H}
          style={{ position: 'absolute', left: 0, top: 0, width: W, height: H }} />
      ))}
    </div>
  );
}
